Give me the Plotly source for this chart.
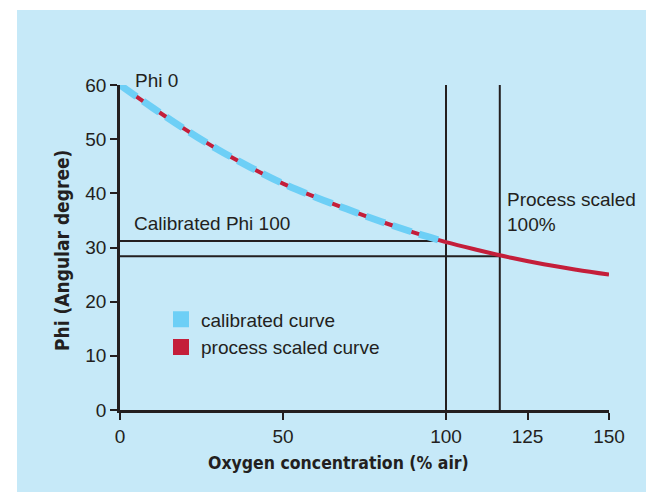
import plotly.graph_objects as go

# Data
oxygen = [0, 10, 20, 30, 40, 50, 60, 70, 80, 90, 100, 110, 120, 130, 140, 150]
phi_process = [60.0, 55.8, 51.8, 48.1, 44.8, 41.8, 39.3, 37.0, 34.8, 32.8, 31.0,
               29.5, 28.1, 26.9, 25.9, 25.0]
cal_oxygen = [0, 10, 20, 30, 40, 50, 60, 70, 80, 90, 100]
phi_calibrated = [60.0, 55.8, 51.8, 48.1, 44.8, 41.8, 39.3, 37.0, 34.8, 32.8, 31.0]

phi100_value = 31.2          # calibrated Phi 100
cal_100_x = 100
process_100_x = 116.5        # process scaled 100 %
process_100_phi = 28.4
vline_top = 60.4

x_ticks = [0, 50, 100, 125, 150]
y_ticks = [0, 10, 20, 30, 40, 50, 60]

BLUE_BG = "#c6e9f8"
CURVE_BLUE = "#6dcff6"
CURVE_RED = "#c41e3a"
INK = "#231f20"
FONT = "Liberation Sans, Arial, sans-serif"
FONT_BOLD_NARROW = "DejaVu Sans Condensed, Liberation Sans Narrow, Arial Narrow, sans-serif"

fig = go.Figure()

# reference lines
fig.add_trace(go.Scatter(x=[0, cal_100_x, cal_100_x], y=[phi100_value, phi100_value, 0],
                         mode="lines", line=dict(color=INK, width=2),
                         showlegend=False, hoverinfo="skip"))
fig.add_trace(go.Scatter(x=[cal_100_x, cal_100_x], y=[0, vline_top],
                         mode="lines", line=dict(color=INK, width=2),
                         showlegend=False, hoverinfo="skip"))
fig.add_trace(go.Scatter(x=[0, process_100_x], y=[process_100_phi, process_100_phi],
                         mode="lines", line=dict(color=INK, width=2),
                         showlegend=False, hoverinfo="skip"))
fig.add_trace(go.Scatter(x=[process_100_x, process_100_x], y=[0, vline_top],
                         mode="lines", line=dict(color=INK, width=2),
                         showlegend=False, hoverinfo="skip"))

# curves
fig.add_trace(go.Scatter(x=oxygen, y=phi_process, mode="lines",
                         line=dict(color=CURVE_RED, width=4, shape="spline"),
                         showlegend=False))
fig.add_trace(go.Scatter(x=cal_oxygen, y=phi_calibrated, mode="lines",
                         line=dict(color=CURVE_BLUE, width=7, shape="spline", dash="20px,8px"),
                         showlegend=False))

# legend entries (square swatches)
fig.add_trace(go.Scatter(x=[None], y=[None], mode="markers", name="calibrated curve",
                         marker=dict(symbol="square", size=16, color=CURVE_BLUE)))
fig.add_trace(go.Scatter(x=[None], y=[None], mode="markers", name="process scaled curve",
                         marker=dict(symbol="square", size=16, color=CURVE_RED)))

L, R, T, B = 120, 37, 85, 82
W, H = 646, 492
pw, ph = W - L - R, H - T - B

def px_x(px):
    return (px - L) / pw

def px_y(py):
    return (H - B - py) / ph

fig.add_shape(type="rect", xref="paper", yref="paper",
              x0=px_x(17), x1=px_x(660), y0=px_y(505), y1=px_y(10),
              fillcolor=BLUE_BG, line=dict(width=0), layer="below")

annots = [
    dict(text="Phi 0", x=px_x(133), y=px_y(81), xref="paper", yref="paper",
         xanchor="left", yanchor="middle"),
    dict(text="Calibrated Phi 100", x=3.7, y=34.5, xref="x", yref="y", xanchor="left", yanchor="middle"),
    dict(text="Process scaled<br>100%", x=118.0, y=36.5, xref="x", yref="y", xanchor="left",
         yanchor="middle", align="left"),
]
for a in annots:
    fig.add_annotation(**a, showarrow=False, font=dict(family=FONT, size=19, color=INK))

fig.add_annotation(text="<b>Oxygen concentration (% air)</b>", xref="paper", yref="paper",
                   x=px_x(338), y=px_y(463), showarrow=False, xanchor="center", yanchor="middle",
                   font=dict(family=FONT_BOLD_NARROW, size=17.5, color=INK))
fig.add_annotation(text="<b>Phi (Angular degree)</b>", xref="paper", yref="paper",
                   x=px_x(62), y=px_y(251), showarrow=False, textangle=-90,
                   xanchor="center", yanchor="middle",
                   font=dict(family=FONT_BOLD_NARROW, size=19, color=INK))

fig.update_layout(
    width=W, height=H,
    margin=dict(l=L, r=R, t=T, b=B, pad=0),
    paper_bgcolor="white", plot_bgcolor="rgba(0,0,0,0)",
    font=dict(family=FONT, size=19, color=INK),
    legend=dict(x=px_x(161), y=px_y(300.5), xanchor="left", yanchor="top",
                bgcolor="rgba(0,0,0,0)", borderwidth=0,
                font=dict(family=FONT, size=19, color=INK)),
    xaxis=dict(range=[0, 150], tickmode="array", tickvals=x_ticks,
               showgrid=False, zeroline=False, showline=True, linecolor=INK, linewidth=2.5,
               ticks="outside", ticklen=7, tickwidth=2, tickcolor=INK,
               tickfont=dict(family=FONT, size=19, color=INK)),
    yaxis=dict(range=[0, 60], tickmode="array", tickvals=y_ticks,
               showgrid=False, zeroline=False, showline=True, linecolor=INK, linewidth=2.5,
               ticks="outside", ticklen=7, tickwidth=2, tickcolor=INK,
               tickfont=dict(family=FONT, size=19, color=INK)),
)

fig.write_html(
    "out.html",
    config={"displayModeBar": False},
    post_script=(
        "document.body.style.margin='0';"
        "document.body.style.overflow='hidden';"
        "document.documentElement.style.overflow='hidden';"
        "document.body.style.background='" + BLUE_BG + "';"
    ),
)
